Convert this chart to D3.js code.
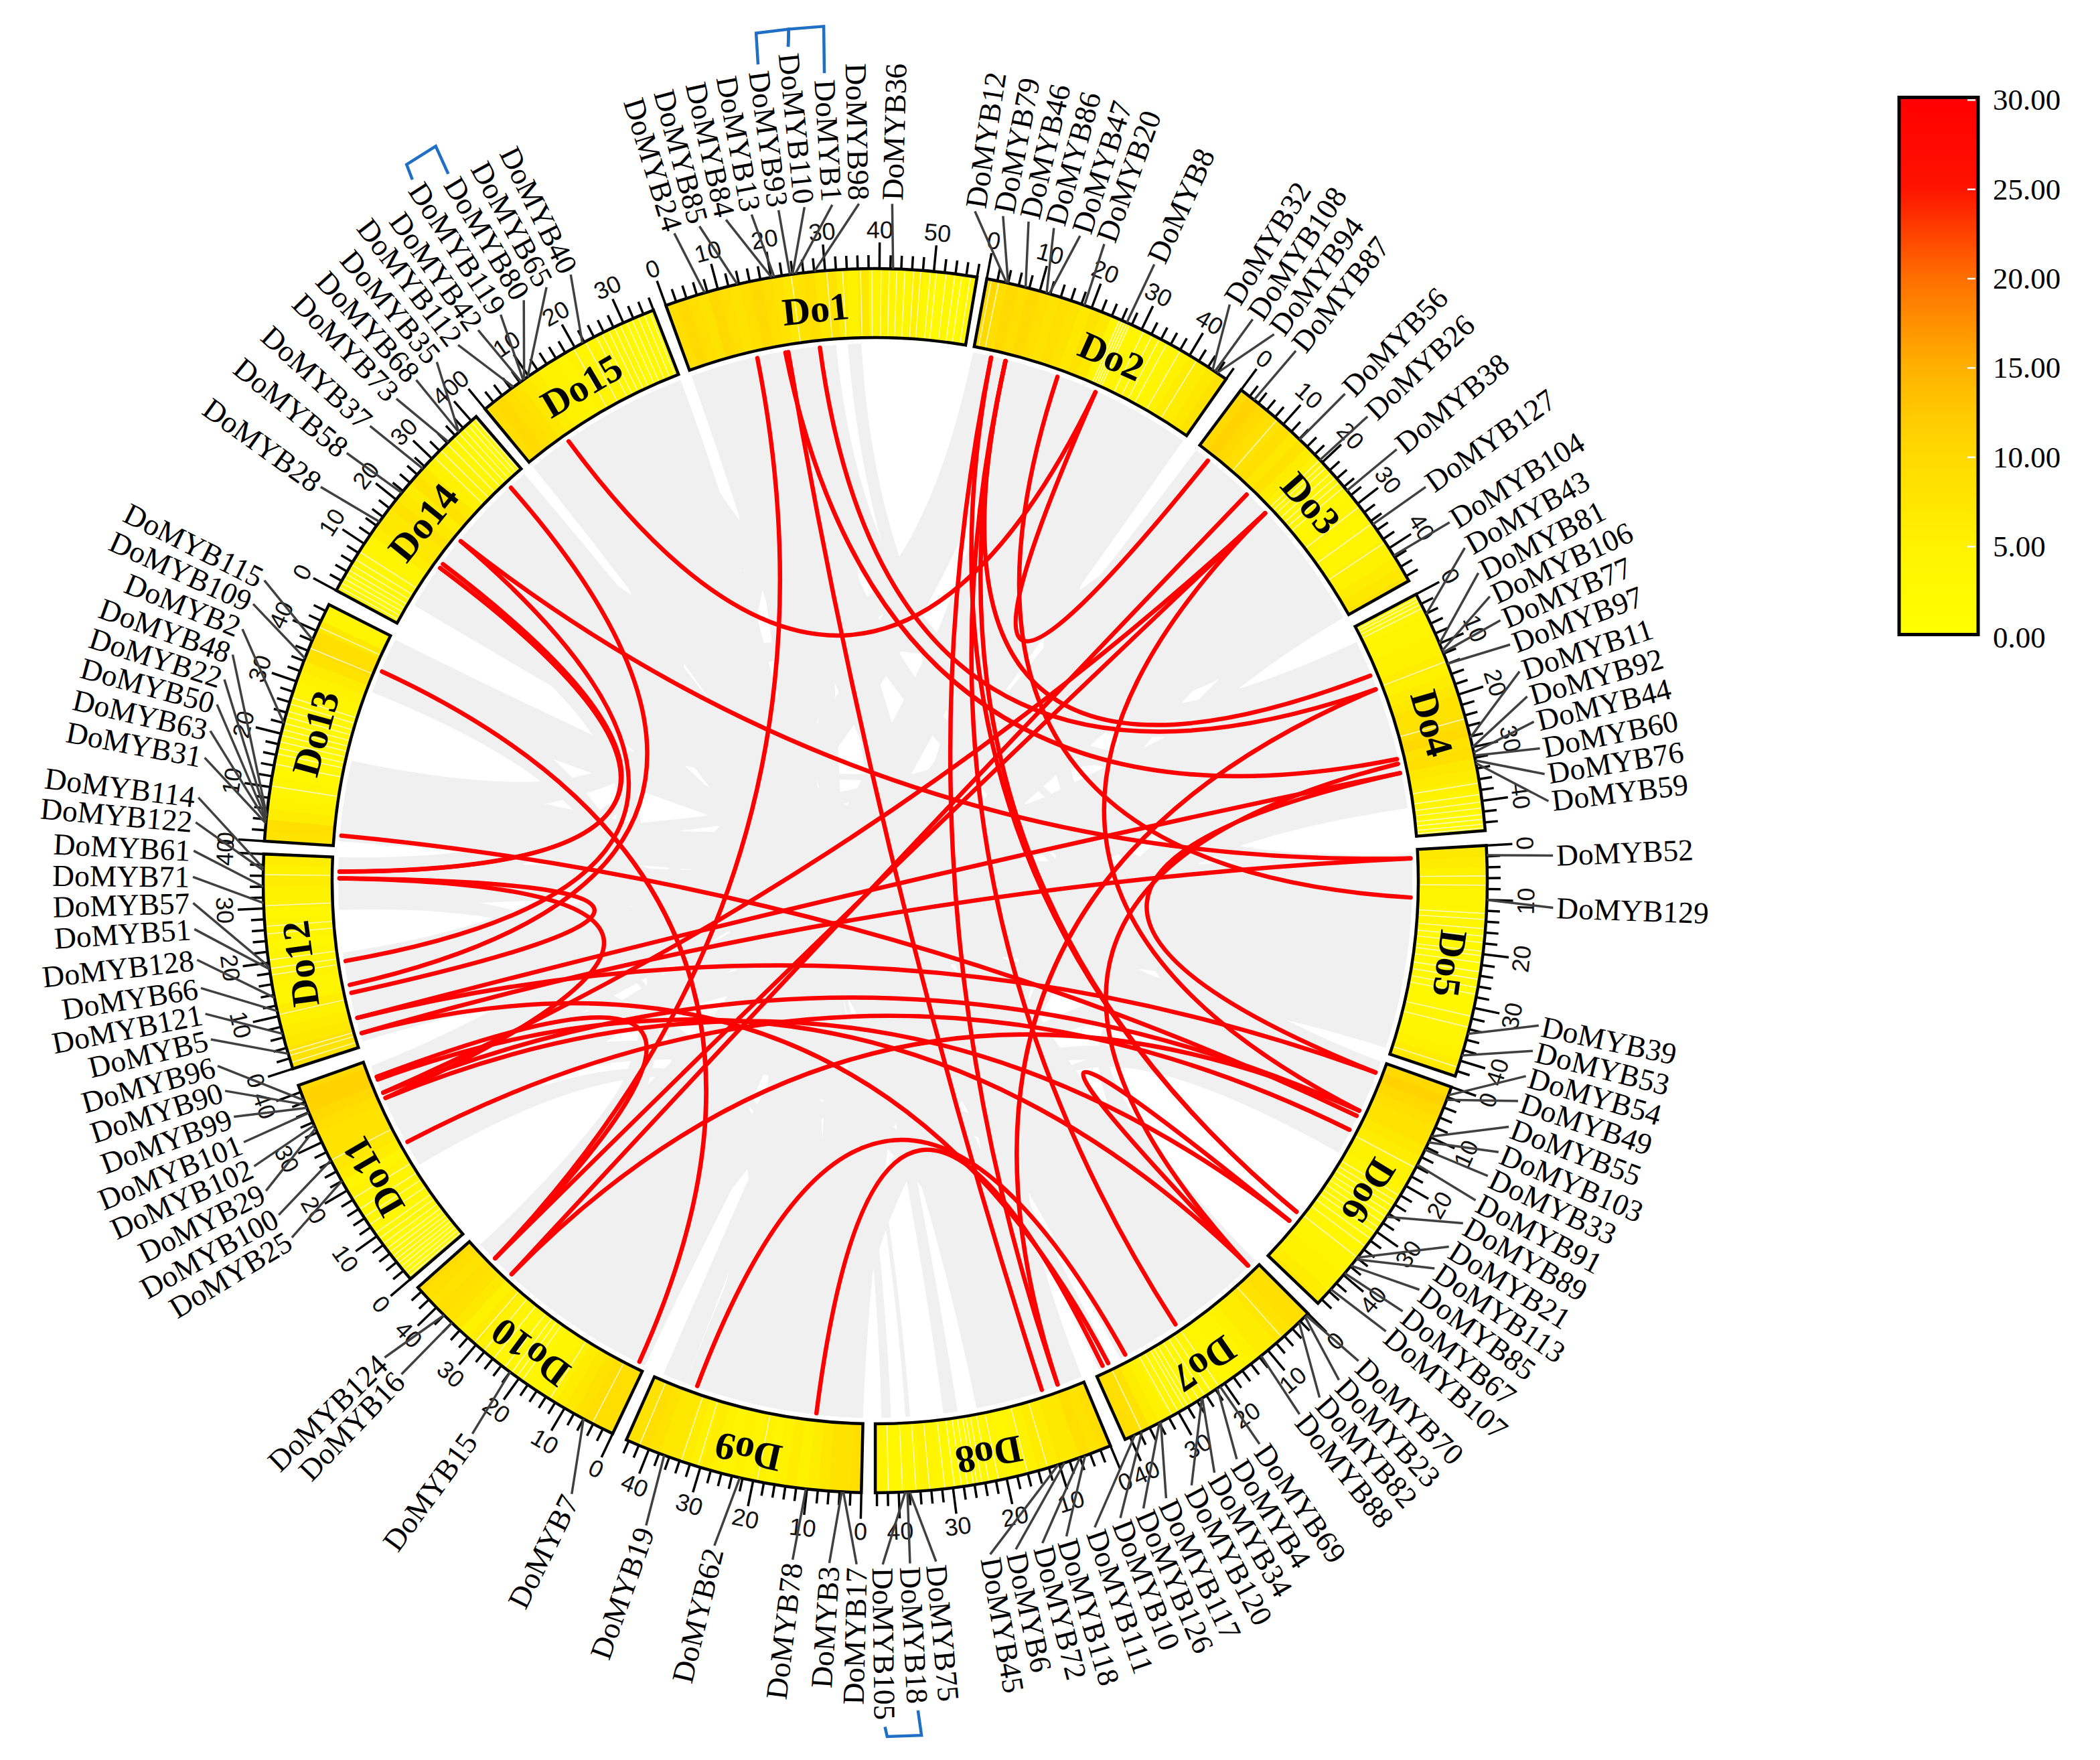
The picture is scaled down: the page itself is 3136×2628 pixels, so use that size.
<!DOCTYPE html>
<html><head><meta charset="utf-8">
<style>html,body{margin:0;padding:0;background:#fff}svg{display:block}</style>
<script src="https://cdn.jsdelivr.net/npm/d3@7/dist/d3.min.js"></script>
</head><body><svg id="chart" width="3136" height="2628"></svg>
<script>
// ---------- data ----------
const chromosomes = ["Do1","Do2","Do3","Do4","Do5","Do6","Do7","Do8","Do9","Do10","Do11","Do12","Do13","Do14","Do15"];
const chromosomeLengths = [58,48,47,45.5,43,47,41,44.3,44.5,45,41.3,40,45.3,41.2,36];
const chromosomeStartDeg = [-20,10.5,36.7,62.1,86.7,109.7,135,157.4,181.3,205.4,229.4,252.1,273.7,298.3,320.4];
const chromosomeNameShiftDeg = [-0.7,1.3,0,0,0,0,0,0,0,-0.4,0,0,0,0,0];

// gene density, one reading per 2 Mb
const density = [
 [9,10,9,8,10,9,8,9,10,9,8,7,8,9,7,8,6,5,7,4,5,4,3,5,3,2,3,2,3],
 [10,9,10,9,10,9,8,9,8,7,8,7,4,3,4,3,4,3,4,5,6,6,7,8],
 [10,11,10,9,8,9,7,8,6,5,4,3,4,3,4,4,3,4,4,5,5,6,7,8],
 [3,3,4,4,5,5,6,5,6,7,8,8,9,10,8,9,7,6,5,4,3,2,2],
 [7,6,5,5,4,4,3,4,2,3,2,2,3,2,3,3,4,4,4,5,6,7],
 [10,11,10,9,8,8,7,6,5,5,4,4,3,2,3,2,3,3,4,4,5,5,6,7],
 [9,9,8,7,6,6,5,4,4,3,4,3,3,3,3,4,5,6,8,9,9],
 [9,8,9,7,7,6,6,5,4,3,4,3,3,2,2,3,4,5,3,3,3,4],
 [9,8,8,7,6,5,6,5,4,5,4,5,4,5,6,5,6,7,7,8,9,8,9],
 [9,9,9,8,7,6,5,4,4,3,3,3,3,4,5,6,5,7,8,9,8,9,10],
 [2,2,3,2,3,3,3,4,4,5,4,6,7,8,8,8,9,10,11,11,10],
 [8,8,7,6,5,6,4,4,5,4,4,3,4,4,3,5,5,6,5,6],
 [8,9,6,5,4,4,3,3,2,3,3,3,3,4,4,5,6,8,9,9,7,4,4],
 [3,2,3,3,4,4,6,7,7,8,7,6,8,7,5,4,4,3,3,2,2],
 [9,10,9,8,7,6,5,5,4,5,4,4,3,3,3,2,3,2]
];
// pale gene-free stripes inside each band (Mb)
const paleStripes = [
 [23.6,30.2,33.1,36.4,38.5,40.2,41.7,43.1,44.6,46.2,47.5,49.3,50.4,52.2,53.8,55.1,56.7],
 [0.8,2.2,25.5,26,26.5,27,27.5,30.4,32.1,33.6,35.2,38,41.5],
 [8.5,19.3,20.2,21.1,22.4,23.6,24.7,25.9,30.5,34.4,38.6],
 [0.6,1.2,1.9,2.7,13.4,24.5,36.6,38.7,40.1,41.2,42.4,43.3,44.2,44.9],
 [5.5,7.2,12.4,13.5,15.2,16.6,17.8,19.4,20.2,21.5,23.2,24.6,26.1,27.4,31.5,33.6,41.2],
 [16.2,22.1,23.3,24.4,25.6,26.7,27.9,29.1,30.2,31.6,33.3,35.8],
 [6.4,21.1,22.8,24.2,25.5,26.9,27.8,28.6,29.9,31.2,37.5],
 [12.1,15.9,21.4,23.2,24.5,25.4,26.1,27.2,28.3,29.6,31.4,34.2,36.7,39.2,41.8],
 [19.2,30.4,33.6,41.8],
 [4.1,13.1,19.2,20.4,21.6,23.2,25.8,28.1,30.4],
 [0.5,1.2,2,2.8,3.6,4.4,5.2,6.1,7,8.1,9.3,10.5,12.4,14.1,15.8,18.1,26.2],
 [1.1,2.4,3.2,10.2,17.6,18.8,20.4,25.2,26.6,30.4,36.1],
 [10.1,14.2,16.1,17.2,18.4,19.6,20.7,21.9,23.1,24.2,25.6,26.8,36.5,40.7],
 [0.7,1.6,2.5,3.4,4.3,5.4,6.6,8.2,30.4,32.1,33.8,35.4,36.7,37.8,38.9,39.8,40.6],
 [19.6,22.1,24.3,25.5,26.8,28,29.2,30.5,31.6,32.8,34,35.1]
];

const geneNames = [
 ["DoMYB24","DoMYB85","DoMYB84","DoMYB13","DoMYB93","DoMYB110","DoMYB1","DoMYB98","DoMYB36"],
 ["DoMYB12","DoMYB79","DoMYB46","DoMYB86","DoMYB47","DoMYB20","DoMYB8","DoMYB32","DoMYB108","DoMYB94"],
 ["DoMYB87","DoMYB56","DoMYB26","DoMYB38","DoMYB127","DoMYB104"],
 ["DoMYB43","DoMYB81","DoMYB106","DoMYB77","DoMYB97","DoMYB11","DoMYB92","DoMYB44","DoMYB60","DoMYB76","DoMYB59"],
 ["DoMYB52","DoMYB129","DoMYB39","DoMYB53"],
 ["DoMYB54","DoMYB49","DoMYB55","DoMYB103","DoMYB33","DoMYB91","DoMYB89","DoMYB21","DoMYB113","DoMYB85","DoMYB67","DoMYB107"],
 ["DoMYB70","DoMYB23","DoMYB82","DoMYB88","DoMYB69","DoMYB4","DoMYB34","DoMYB120","DoMYB117","DoMYB126","DoMYB10","DoMYB111"],
 ["DoMYB118","DoMYB72","DoMYB6","DoMYB45","DoMYB75","DoMYB18","DoMYB105"],
 ["DoMYB17","DoMYB3","DoMYB78","DoMYB62","DoMYB19"],
 ["DoMYB7","DoMYB15","DoMYB16","DoMYB124"],
 ["DoMYB25","DoMYB100","DoMYB29","DoMYB102","DoMYB101","DoMYB99","DoMYB90","DoMYB96"],
 ["DoMYB5","DoMYB121","DoMYB66","DoMYB128","DoMYB51","DoMYB57","DoMYB71","DoMYB61","DoMYB122","DoMYB114"],
 ["DoMYB31","DoMYB63","DoMYB50","DoMYB22","DoMYB48","DoMYB2","DoMYB109","DoMYB115"],
 ["DoMYB28","DoMYB58","DoMYB37","DoMYB73","DoMYB68","DoMYB35"],
 ["DoMYB112","DoMYB42","DoMYB119","DoMYB80","DoMYB65","DoMYB40"]
];
const genePositions = [
 [7.5,13.7,20.1,20.6,23.5,24,24.5,28,42.5],
 [3.7,4,7.3,11.3,11.8,18.6,27,45,45.5,46],
 [3,14.1,19.4,26.9,34.7,41.6],
 [4.1,10,11.4,11.8,14,28.2,30,31,31.6,32.5,33],
 [1.8,10,34.9,39],
 [1.6,2.5,9.8,11,12.5,15.6,26.7,35.9,36.3,37.8,39.6,43.5],
 [0.5,0.8,2.3,11.6,21,21.6,24.9,25,33.7,34,37.6,39],
 [5,6,9,10.2,38,38.4,38.8],
 [3.3,3.6,10.2,22.5,37],
 [6,22,36,38],
 [22,26.3,32.8,33.4,35.9,36.9,37.5,38.4],
 [2.9,6.7,11,13.5,18.8,19.2,31,34,37,37.4],
 [3.3,3.7,4,4.5,4.8,22,34.5,38.2],
 [14.9,21.6,27.5,34.3,36.9,36.9],
 [6.6,8.3,8.8,9,9.8,21.6]
];
// where each gene's label sits around the ring, degrees clockwise from the top
const labelAngles = [
 [-17,-14.8,-12.5,-10.3,-8,-5.8,-3.45,-1.2,1.6],
 [8.6,11,13.2,15.4,17.7,19.85,24.4,31.6,33.9,36.1],
 [38.4,43.9,46.6,50.3,54.3,57.9],
 [60.4,62.8,65,67.2,69.4,71.8,74,76.2,78.5,80.7,83],
 [87.6,92,102,104.2],
 [106.4,108.6,110.9,113.2,115.4,117.7,119.9,122.2,124.4,126.6,128.9,131.1],
 [134.5,136.8,139,141.2,145.4,147.7,149.9,152.1,154.5,156.6,158.7,161],
 [163.5,165.6,167.9,170.1,174.7,176.9,179.2],
 [181.4,183.7,186.8,193.5,199.5],
 [206.3,216.1,223.9,225.9],
 [238.7,240.9,243.2,245.5,247.7,250,252.3,254.5],
 [256.8,259,261.2,263.6,266.2,268.4,270.6,272.8,275.2,277.3],
 [280.7,283,285.3,287.5,289.7,292,294.3,296.5],
 [305.7,309.3,312.3,315.5,317.8,320.1],
 [322.4,324.5,326.8,329.1,331.3,333.6]
];
const tandemPairs = [["DoMYB93","DoMYB110"],["DoMYB110","DoMYB1"],["DoMYB119","DoMYB80"],["DoMYB105","DoMYB18"]];

// collinear blocks: chromosome A, start, end, chromosome B, start, end (Mb)
const blocks = [
 [1,0,5,8,27,30],[1,5,11,9,30,36],[1,11,17,9,20,26],[1,17,24,9,8,14],[1,24,31,8,16,23],[1,33.5,36.3,6,5,8],
 [2,0,6,11,33,40],[2,6,12,11,26,33],[2,12,18,10,5,12],[2,18,24,10,12,18],[2,24,30,10,18,24],[2,30,36,9,38,43],[2,36,42,10,0,5],[2,42,48,10,24,30],
 [3,0,6,10,30,36],[3,6,14,10,36,43],[3,14,20,11,17,20],[3,20,28,11,20,26],[3,29,34,12,14,20],[3,35,41,12,7,14],[3,41,47,13,1,5],
 [4,3,9,11,22,27],[4,9,16,12,1,6],[4,16,24,12,6,12],[4,24,32,12,12,20],[4,32,39.5,13,5,9],
 [5,1,7,12,29,34],[5,7,13,12,34,40],[5,13,19,13,1,6],[5,19,26,13,6,12],[5,26,33,13,12,18],[5,33,42,13,33,38],
 [6,0,5,13,38,45],[6,8,14,14,5,12],[6,14,21,14,12,18],
 [7,0,7,14,18,24],[7,7,15,14,24,30],[7,17,25,14,30,36],[7,27,35,14,36,41],[7,37,40,15,0,5],
 [8,0,8,15,5,14],[8,8,16,15,14,24],[8,37,38,15,24,27],[8,41,43,15,27,30],
 [9,0,4,15,30,33],[9,4,8,15,33,36],[9,14,20,2,20,26],[9,36,38,3,8,10],[1,3,6,10,36,38],[2,4,8,12,2,5],[4,12,15,13,34,36],
 // blocks that lean across neighbouring chromosomes and close the white wedges
 [3,41,47,6,0,8],[4,3,9,2,8,14],[5,1,7,3,22,28],[4,32,39.5,6,8,14],[6,14,21,8,0,8],[7,0,8,5,33,42],
 [1,28,31,4,10,16],[1,33.5,36.3,5,20,24],[2,0,5,14,30,36],[11,17,22,9,5,12],[10,36,43,12,1,8],
 [13,33,37,11,25,30],[13,12,18,15,3,10],[12,29,33,10,10,16],[12,14,20,14,10,16],
 // long blocks through the middle
 [1,5,15,7,5,15],[1,15,25,7,20,30],[2,10,20,8,0,10],[2,25,35,9,0,10],[3,5,15,9,15,25],[3,25,35,10,20,30],
 [4,15,25,10,5,15],[5,10,20,11,28,36],[5,25,35,12,5,12],[6,3,10,12,33,39],[7,5,15,13,5,15],[7,27,33,14,8,16],
 [8,5,15,14,25,35],[8,16,22,15,5,12],[9,10,20,15,15,25],[9,25,35,1,8,18],[10,10,20,1,20,30],[10,25,35,2,15,25],
 [11,30,38,3,20,30],[12,3,10,4,25,33],[13,5,12,5,3,10],[13,36,42,5,30,38],[14,15,25,6,3,12],[14,30,38,7,10,15],
 [15,10,20,8,20,23],[15,20,30,9,0,6],[1,10,20,5,30,38],[2,30,40,6,1,8],[3,30,38,8,3,12],[4,20,30,8,10,20],
 [5,30,40,9,3,13],[6,10,16,9,28,38],[7,10,20,10,20,30],[8,2,12,11,25,33],[9,20,30,12,2,10],[10,28,38,13,36,43],
 [11,24,32,14,15,22],[12,32,40,15,10,18],[13,8,16,1,5,13],[14,22,30,2,5,13],[15,22,32,3,5,13],[1,20,28,4,25,33]
];
// duplicated MYB gene pairs: chromosome A, Mb, chromosome B, Mb
const geneLinks = [
 [15,9.2,2,27],[3,3.3,2,27],[2,18.4,5,10],[7,1.8,6,38.6],[14,15.5,12,37],[14,14.5,12,37],[14,21.6,12,18.2],
 [14,37,12,13.1],[14,21.6,5,1.8],[12,11.4,12,35.6],[12,35.6,11,32.7],[13,37.8,10,1.4],[13,2.2,6,12.4],[1,14.3,10,38.8],
 [1,20.9,8,8.8],[1,20.3,4,29],[1,27.6,4,13.7],[2,7,4,10.6],[2,3.9,8,5.3],[2,3.9,6,36.2],[2,7,6,36.2],[2,7,7,21.4],
 [3,19.6,10,38.8],[3,14.1,10,34],[3,19.6,11,33.9],[3,19.6,6,11.2],[4,13.7,8,5.3],[4,30,7,1.8],[4,32,6,2.5],[4,32,12,6],
 [12,6,6,2.5],[12,2.7,7,37.7],[12,2.7,5,1.8],[11,37.5,10,38.8],[11,36.9,7,1.8],[11,33.9,6,11.2],[11,32.7,6,38.6],
 [11,22.4,6,15.7],[10,34,6,11.2],[9,35.5,7,33.7],[9,9.8,7,39]
];
const legendTicks = [0,5,10,15,20,25,30];
const colorStops = [0,5,10,12.5,15,20,25,30];
const colorRange = ["#ffff00","#fff200","#ffd900","#ffc800","#ffb000","#ff6e00","#ff1200","#ff0000"];

// ---------- layout ----------
const cx = 1307, cy = 1315;
const rOuter = 914, rInner = 811, rLink = 802, rLabel = 1021, rBracket = 1278;
const labelCx = 1304, labelCy = 1320;
const color = d3.scaleLinear().domain(colorStops).range(colorRange).clamp(true);
const angleScales = chromosomes.map((c,i)=>d3.scaleLinear()
  .domain([0,chromosomeLengths[i]])
  .range([chromosomeStartDeg[i], chromosomeStartDeg[i]+chromosomeLengths[i]*0.51]));
const rad = d => d*Math.PI/180;
const pt = (deg,r) => [cx + r*Math.sin(rad(deg)), cy - r*Math.cos(rad(deg))];
const labelPt = (deg,r) => [labelCx + r*Math.sin(rad(deg)), labelCy - r*Math.cos(rad(deg))];
const svg = d3.select("#chart");
svg.append("rect").attr("width",3136).attr("height",2628).attr("fill","#fff");
const center = svg.append("g");
const ring = svg.append("g").attr("transform",`translate(${cx},${cy})`);
const ctrl = (a,b)=>{ const mx=(a[0]+b[0])/2, my=(a[1]+b[1])/2; return [cx+0.06*(mx-cx), cy+0.06*(my-cy)]; };

// gray blocks
const blockPath = b => {
  const a0=angleScales[b[0]-1](b[1]), a1=angleScales[b[0]-1](b[2]);
  const b0=angleScales[b[3]-1](b[4]), b1=angleScales[b[3]-1](b[5]);
  const p=d3.path(), A0=pt(a0,rLink),A1=pt(a1,rLink),B0=pt(b0,rLink),B1=pt(b1,rLink);
  let c=ctrl(A1,B0);
  p.moveTo(A0[0],A0[1]);
  p.arc(cx,cy,rLink,rad(a0-90),rad(a1-90),false);
  p.quadraticCurveTo(c[0],c[1],B0[0],B0[1]);
  p.arc(cx,cy,rLink,rad(b0-90),rad(b1-90),false);
  c=ctrl(B1,A0);
  p.quadraticCurveTo(c[0],c[1],A0[0],A0[1]);
  p.closePath();
  return p.toString();
};
center.selectAll("path.block").data(blocks).join("path").attr("class","block")
  .attr("d",blockPath).attr("fill","#f0f0f0");

// red links
const linkPath = l => {
  const A=pt(angleScales[l[0]-1](l[1]),rLink-2), B=pt(angleScales[l[2]-1](l[3]),rLink-2), c=ctrl(A,B);
  const p=d3.path(); p.moveTo(A[0],A[1]); p.quadraticCurveTo(c[0],c[1],B[0],B[1]); return p.toString();
};
center.selectAll("path.glink").data(geneLinks).join("path").attr("class","glink")
  .attr("d",linkPath).attr("fill","none").attr("stroke","#ff0000").attr("stroke-width",6.5).attr("stroke-linecap","round");

// bands
const arc = d3.arc();
chromosomes.forEach((name,i)=>{
  const s=angleScales[i], len=chromosomeLengths[i], g=ring.append("g");
  g.selectAll("path.bin").data(density[i]).join("path").attr("class","bin")
    .attr("d",(v,k)=>arc({innerRadius:rInner,outerRadius:rOuter,
       startAngle:rad(s(k*2)),endAngle:rad(s(Math.min(len,(k+1)*2)))+0.0015}))
    .attr("fill",v=>color(v));
  g.selectAll("path.stripe").data(paleStripes[i]).join("path").attr("class","stripe")
    .attr("d",m=>arc({innerRadius:rInner,outerRadius:rOuter,startAngle:rad(s(m)),endAngle:rad(s(m))+0.0017}))
    .attr("fill","#fbf7c8");
  g.append("path").attr("d",arc({innerRadius:rInner,outerRadius:rOuter,startAngle:rad(s(0)),endAngle:rad(s(len))}))
    .attr("fill","none").attr("stroke","#000").attr("stroke-width",4.5);
  g.append("text").attr("transform",()=>{const m=(s(0)+s(len))/2+chromosomeNameShiftDeg[i],p=pt(m,866);return `translate(${p[0]-cx},${p[1]-cy+8}) rotate(${m})`;})
    .attr("text-anchor","middle").attr("dominant-baseline","central")
    .attr("font-family","'Liberation Serif'").attr("font-weight","bold").attr("font-size",58).text(name);
  // ticks
  const ticks=d3.range(0,len+0.01,2);
  g.selectAll("line.tick").data(ticks).join("line").attr("class","tick")
    .attr("x1",m=>pt(s(m),rOuter)[0]-cx).attr("y1",m=>pt(s(m),rOuter)[1]-cy)
    .attr("x2",m=>pt(s(m),rOuter+(m%10===0?39:20))[0]-cx).attr("y2",m=>pt(s(m),rOuter+(m%10===0?39:20))[1]-cy)
    .attr("stroke","#000").attr("stroke-width",3.5);
  g.selectAll("text.tl").data(ticks.filter(m=>m%10===0)).join("text").attr("class","tl")
    .attr("transform",m=>{let t=s(m),p=pt(t,972),n=((t%360)+360)%360;
       const r=(n>90&&n<270)?n-180:(n>=270?n-360:n);
       return `translate(${p[0]-cx},${p[1]-cy}) rotate(${r})`;})
    .attr("text-anchor","middle").attr("dominant-baseline","central")
    .attr("font-family","'Liberation Sans'").attr("font-size",36).attr("fill","#111").text(m=>m);
  // gene labels
  geneNames[i].forEach((gene,k)=>{
    const from=pt(s(genePositions[i][k]),rOuter), la=labelAngles[i][k], to=labelPt(la,rLabel-5);
    svg.append("line").attr("x1",from[0]).attr("y1",from[1]).attr("x2",to[0]).attr("y2",to[1])
      .attr("stroke","#404040").attr("stroke-width",3.5);
    const p=labelPt(la,rLabel), n=((la%360)+360)%360, right=n<180;
    svg.append("text").attr("class","gene").attr("data-name",gene).attr("data-angle",n)
      .attr("transform",`translate(${p[0]},${p[1]}) rotate(${right?n-90:n+90})`)
      .attr("text-anchor",right?"start":"end").attr("dominant-baseline","central")
      .attr("font-family","'Liberation Serif'").attr("font-size",45.5).text(gene);
  });
});

// tandem brackets
const endOf = name => { const t=svg.selectAll("text.gene").filter(function(){return this.getAttribute("data-name")===name;}).node();
  return {a:+t.getAttribute("data-angle"), w:t.getComputedTextLength()}; };
tandemPairs.forEach(pr=>{
  const A=endOf(pr[0]),B=endOf(pr[1]);
  const line=d3.line();
  svg.append("path").attr("d",line([labelPt(A.a,rLabel+A.w+10),pt(A.a,rBracket),pt(B.a,rBracket),labelPt(B.a,rLabel+B.w+10)]))
    .attr("fill","none").attr("stroke","#1f6fc4").attr("stroke-width",4.5);
});

// legend
const yLegend=d3.scaleLinear().domain([0,30]).range([949.5,149.4]);
const defs=svg.append("defs"), grad=defs.append("linearGradient").attr("id","heat").attr("x1",0).attr("y1",1).attr("x2",0).attr("y2",0);
grad.selectAll("stop").data(colorStops).join("stop").attr("offset",v=>v/30).attr("stop-color",v=>color(v));
svg.append("rect").attr("x",2836).attr("y",yLegend(30)-4).attr("width",118).attr("height",yLegend(0)-yLegend(30)+2)
  .attr("fill","url(#heat)").attr("stroke","#000").attr("stroke-width",5);
svg.selectAll("line.lt").data(legendTicks.filter(v=>v>0)).join("line").attr("class","lt")
  .attr("x1",2938).attr("x2",2950).attr("y1",v=>yLegend(v)).attr("y2",v=>yLegend(v)).attr("stroke","#fff").attr("stroke-width",2.5);
svg.selectAll("text.ll").data(legendTicks).join("text").attr("class","ll")
  .attr("x",2976).attr("y",v=>yLegend(v)+(v===0?2:0)).attr("dominant-baseline","central")
  .attr("font-family","'Liberation Serif'").attr("font-size",45).text(v=>v.toFixed(2));
</script></body></html>
